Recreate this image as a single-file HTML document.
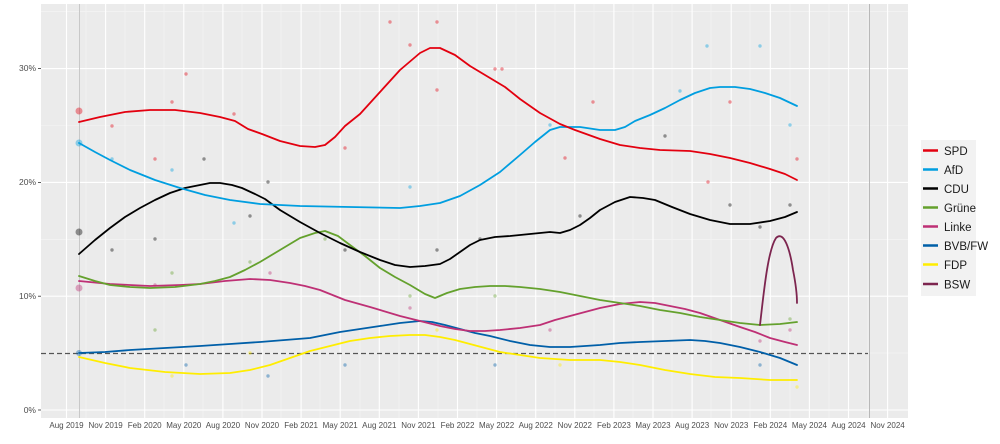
<!DOCTYPE html>
<html><head><meta charset="utf-8"><style>
body{margin:0;background:#fff;}
svg{display:block;font-family:"Liberation Sans",sans-serif;}
</style></head><body>
<svg width="1000" height="444" viewBox="0 0 1000 444">
<rect x="41" y="4" width="867" height="414" fill="#EBEBEB"/>
<g stroke="#F5F5F5" stroke-width="0.6">
<line x1="41" x2="908" y1="353.1" y2="353.1"/><line x1="41" x2="908" y1="239.3" y2="239.3"/><line x1="41" x2="908" y1="125.5" y2="125.5"/><line x1="41" x2="908" y1="11.7" y2="11.7"/>
<line x1="86" x2="86" y1="4" y2="418"/><line x1="125" x2="125" y1="4" y2="418"/><line x1="164" x2="164" y1="4" y2="418"/><line x1="203" x2="203" y1="4" y2="418"/><line x1="242" x2="242" y1="4" y2="418"/><line x1="281" x2="281" y1="4" y2="418"/><line x1="320" x2="320" y1="4" y2="418"/><line x1="360" x2="360" y1="4" y2="418"/><line x1="399" x2="399" y1="4" y2="418"/><line x1="438" x2="438" y1="4" y2="418"/><line x1="477" x2="477" y1="4" y2="418"/><line x1="516" x2="516" y1="4" y2="418"/><line x1="555" x2="555" y1="4" y2="418"/><line x1="594" x2="594" y1="4" y2="418"/><line x1="633" x2="633" y1="4" y2="418"/><line x1="672" x2="672" y1="4" y2="418"/><line x1="711" x2="711" y1="4" y2="418"/><line x1="750" x2="750" y1="4" y2="418"/><line x1="790" x2="790" y1="4" y2="418"/><line x1="829" x2="829" y1="4" y2="418"/><line x1="868" x2="868" y1="4" y2="418"/>
</g>
<g stroke="#fff" stroke-width="1.1">
<line x1="41" x2="908" y1="410" y2="410"/><line x1="41" x2="908" y1="296.2" y2="296.2"/><line x1="41" x2="908" y1="182.4" y2="182.4"/><line x1="41" x2="908" y1="68.6" y2="68.6"/>
<line x1="66.5" x2="66.5" y1="4" y2="418"/><line x1="105.6" x2="105.6" y1="4" y2="418"/><line x1="144.7" x2="144.7" y1="4" y2="418"/><line x1="183.8" x2="183.8" y1="4" y2="418"/><line x1="222.9" x2="222.9" y1="4" y2="418"/><line x1="262" x2="262" y1="4" y2="418"/><line x1="301.1" x2="301.1" y1="4" y2="418"/><line x1="340.2" x2="340.2" y1="4" y2="418"/><line x1="379.3" x2="379.3" y1="4" y2="418"/><line x1="418.4" x2="418.4" y1="4" y2="418"/><line x1="457.5" x2="457.5" y1="4" y2="418"/><line x1="496.6" x2="496.6" y1="4" y2="418"/><line x1="535.7" x2="535.7" y1="4" y2="418"/><line x1="574.8" x2="574.8" y1="4" y2="418"/><line x1="613.9" x2="613.9" y1="4" y2="418"/><line x1="653" x2="653" y1="4" y2="418"/><line x1="692.1" x2="692.1" y1="4" y2="418"/><line x1="731.2" x2="731.2" y1="4" y2="418"/><line x1="770.3" x2="770.3" y1="4" y2="418"/><line x1="809.4" x2="809.4" y1="4" y2="418"/><line x1="848.5" x2="848.5" y1="4" y2="418"/><line x1="887.6" x2="887.6" y1="4" y2="418"/>
</g>
<line x1="79.5" x2="79.5" y1="4" y2="418" stroke="#C8C8C8" stroke-width="1"/>
<line x1="869.5" x2="869.5" y1="4" y2="418" stroke="#B8B8B8" stroke-width="1"/>
<line x1="41" x2="868" y1="353.5" y2="353.5" stroke="#555" stroke-width="1.3" stroke-dasharray="5,3"/>
<g opacity="0.4">
<circle cx="112" cy="126" r="1.7" fill="#E3000F"/><circle cx="172" cy="102" r="1.7" fill="#E3000F"/><circle cx="186" cy="74" r="1.7" fill="#E3000F"/><circle cx="234" cy="114" r="1.7" fill="#E3000F"/><circle cx="155" cy="159" r="1.7" fill="#E3000F"/><circle cx="390" cy="22" r="1.7" fill="#E3000F"/><circle cx="437" cy="22" r="1.7" fill="#E3000F"/><circle cx="410" cy="45" r="1.7" fill="#E3000F"/><circle cx="495" cy="69" r="1.7" fill="#E3000F"/><circle cx="502" cy="69" r="1.7" fill="#E3000F"/><circle cx="437" cy="90" r="1.7" fill="#E3000F"/><circle cx="345" cy="148" r="1.7" fill="#E3000F"/><circle cx="593" cy="102" r="1.7" fill="#E3000F"/><circle cx="565" cy="158" r="1.7" fill="#E3000F"/><circle cx="708" cy="182" r="1.7" fill="#E3000F"/><circle cx="730" cy="102" r="1.7" fill="#E3000F"/><circle cx="797" cy="159" r="1.7" fill="#E3000F"/>
<circle cx="112" cy="159" r="1.7" fill="#009EE0"/><circle cx="172" cy="170" r="1.7" fill="#009EE0"/><circle cx="234" cy="223" r="1.7" fill="#009EE0"/><circle cx="410" cy="187" r="1.7" fill="#009EE0"/><circle cx="550" cy="125" r="1.7" fill="#009EE0"/><circle cx="707" cy="46" r="1.7" fill="#009EE0"/><circle cx="760" cy="46" r="1.7" fill="#009EE0"/><circle cx="680" cy="91" r="1.7" fill="#009EE0"/><circle cx="790" cy="125" r="1.7" fill="#009EE0"/>
<circle cx="112" cy="250" r="1.7" fill="#000"/><circle cx="155" cy="239" r="1.7" fill="#000"/><circle cx="204" cy="159" r="1.7" fill="#000"/><circle cx="250" cy="216" r="1.7" fill="#000"/><circle cx="268" cy="182" r="1.7" fill="#000"/><circle cx="345" cy="250" r="1.7" fill="#000"/><circle cx="437" cy="250" r="1.7" fill="#000"/><circle cx="480" cy="239" r="1.7" fill="#000"/><circle cx="580" cy="216" r="1.7" fill="#000"/><circle cx="665" cy="136" r="1.7" fill="#000"/><circle cx="730" cy="205" r="1.7" fill="#000"/><circle cx="790" cy="205" r="1.7" fill="#000"/><circle cx="760" cy="227" r="1.7" fill="#000"/>
<circle cx="155" cy="330" r="1.7" fill="#64A12D"/><circle cx="172" cy="273" r="1.7" fill="#64A12D"/><circle cx="250" cy="262" r="1.7" fill="#64A12D"/><circle cx="325" cy="239" r="1.7" fill="#64A12D"/><circle cx="410" cy="296" r="1.7" fill="#64A12D"/><circle cx="495" cy="296" r="1.7" fill="#64A12D"/><circle cx="790" cy="319" r="1.7" fill="#64A12D"/>
<circle cx="155" cy="285" r="1.7" fill="#BE3075"/><circle cx="270" cy="273" r="1.7" fill="#BE3075"/><circle cx="410" cy="308" r="1.7" fill="#BE3075"/><circle cx="550" cy="330" r="1.7" fill="#BE3075"/><circle cx="760" cy="341" r="1.7" fill="#BE3075"/><circle cx="790" cy="330" r="1.7" fill="#BE3075"/>
<circle cx="172" cy="376" r="1.7" fill="#FFED00"/><circle cx="250" cy="353" r="1.7" fill="#FFED00"/><circle cx="437" cy="330" r="1.7" fill="#FFED00"/><circle cx="560" cy="365" r="1.7" fill="#FFED00"/><circle cx="797" cy="387" r="1.7" fill="#FFED00"/>
<circle cx="186" cy="365" r="1.7" fill="#005FA8"/><circle cx="268" cy="376" r="1.7" fill="#005FA8"/><circle cx="345" cy="365" r="1.7" fill="#005FA8"/><circle cx="495" cy="365" r="1.7" fill="#005FA8"/><circle cx="760" cy="365" r="1.7" fill="#005FA8"/>
<circle cx="79" cy="111" r="3.5" fill="#E3000F"/><circle cx="79" cy="143" r="3.5" fill="#009EE0"/><circle cx="79" cy="232" r="3.5" fill="#000"/><circle cx="79" cy="288" r="3.5" fill="#BE3075"/><circle cx="79" cy="353" r="3" fill="#005FA8"/>
</g>
<g fill="none" stroke-width="1.8" stroke-linejoin="round" stroke-linecap="round">
<polyline stroke="#FFED00" points="79,357 105,363 130,368 165,372 200,374 230,373 250,370 270,365 290,358 310,351 330,346 350,341 370,338 390,336 410,335 425,335 440,337 455,340 470,344 485,348 500,352 520,355 540,358 570,360 600,360 620,362 640,365 665,370 690,374 715,377 740,378 770,380 797,380"/>
<polyline stroke="#005FA8" points="79,353 105,352 130,350 165,348 200,346 230,344 260,342 285,340 310,338 325,335 340,332 360,329 380,326 400,323 420,321 432,322 445,325 460,329 475,333 490,336 510,341 530,345 550,347 570,347 600,345 620,343 640,342 665,341 690,340 705,341 720,343 740,347 760,352 780,358 797,365"/>
<polyline stroke="#BE3075" points="79,281 110,284 150,286 180,285 200,284 225,281 250,279 270,280 290,283 305,286 320,290 345,300 370,307 400,316 420,321 440,326 455,329 470,331 485,331 500,330 520,328 540,325 555,320 570,316 585,312 600,308 620,304 640,302 655,303 670,306 685,309 700,313 720,320 740,327 755,332 770,338 785,342 797,345"/>
<polyline stroke="#64A12D" points="79,276 95,281 110,285 130,287 150,288 175,287 200,284 215,281 230,277 245,270 260,262 280,250 300,238 315,233 325,231 338,236 350,245 365,256 380,268 395,277 410,285 425,294 435,298 447,293 460,289 475,287 490,286 505,286 520,287 540,289 560,292 580,296 600,300 620,303 640,306 660,310 680,313 700,317 720,320 740,323 760,325 780,324 797,322"/>
<polyline stroke="#000" points="79,254 95,240 110,228 125,217 140,208 155,200 170,193 185,188 200,185 210,183 220,183 232,185 242,188 255,194 265,199 280,210 300,222 320,233 340,243 360,252 380,260 395,265 410,267 425,266 440,264 450,259 460,252 470,245 480,240 495,237 510,236 530,234 550,232 560,233 570,230 580,225 590,218 600,210 615,202 630,197 643,198 655,200 672,207 690,214 710,220 730,224 750,224 770,221 785,217 797,212"/>
<polyline stroke="#009EE0" points="79,143 95,152 110,160 130,170 155,180 180,188 205,195 230,200 260,204 300,206 350,207 400,208 420,206 440,203 460,196 480,185 500,172 520,155 535,142 550,130 560,127 580,127 600,130 615,130 625,127 635,121 650,115 665,108 680,100 695,93 710,88 720,87 735,87 750,89 765,93 780,98 797,106"/>
<polyline stroke="#E3000F" points="79,122 100,117 125,112 150,110 175,110 200,113 220,117 235,121 248,129 262,134 280,141 300,146 315,147 325,145 335,137 345,126 360,114 380,92 400,70 420,53 430,48 440,48 455,55 470,66 490,78 505,87 520,99 540,113 560,124 575,130 600,139 620,145 640,148 660,150 690,151 710,154 730,158 750,163 770,169 785,174 797,180"/>
<path stroke="#7D254F" d="M760,325 C764,290 768,250 776,238 C784,230 790,250 793,270 C796,285 797,295 797,303"/>
</g>
<g font-size="8.5" fill="#4D4D4D" text-anchor="end">
<text x="36" y="413">0%</text><text x="36" y="299">10%</text><text x="36" y="185">20%</text><text x="36" y="71">30%</text>
</g>
<g stroke="#333" stroke-width="0.8">
<line x1="38" x2="41" y1="410" y2="410"/><line x1="38" x2="41" y1="296.2" y2="296.2"/><line x1="38" x2="41" y1="182.4" y2="182.4"/><line x1="38" x2="41" y1="68.6" y2="68.6"/>
</g>
<g font-size="8" fill="#4D4D4D" text-anchor="middle">
<text x="66.5" y="428">Aug 2019</text><text x="105.6" y="428">Nov 2019</text><text x="144.7" y="428">Feb 2020</text><text x="183.8" y="428">May 2020</text><text x="222.9" y="428">Aug 2020</text><text x="262" y="428">Nov 2020</text><text x="301.1" y="428">Feb 2021</text><text x="340.2" y="428">May 2021</text><text x="379.3" y="428">Aug 2021</text><text x="418.4" y="428">Nov 2021</text><text x="457.5" y="428">Feb 2022</text><text x="496.6" y="428">May 2022</text><text x="535.7" y="428">Aug 2022</text><text x="574.8" y="428">Nov 2022</text><text x="613.9" y="428">Feb 2023</text><text x="653" y="428">May 2023</text><text x="692.1" y="428">Aug 2023</text><text x="731.2" y="428">Nov 2023</text><text x="770.3" y="428">Feb 2024</text><text x="809.4" y="428">May 2024</text><text x="848.5" y="428">Aug 2024</text><text x="887.6" y="428">Nov 2024</text>
</g>
<rect x="921" y="140" width="55" height="156" fill="#F2F2F2"/>
<g stroke-width="2.5">
<line x1="923" x2="938" y1="150.5" y2="150.5" stroke="#E3000F"/><line x1="923" x2="938" y1="169.5" y2="169.5" stroke="#009EE0"/><line x1="923" x2="938" y1="188.5" y2="188.5" stroke="#000"/><line x1="923" x2="938" y1="207.5" y2="207.5" stroke="#64A12D"/><line x1="923" x2="938" y1="226.5" y2="226.5" stroke="#BE3075"/><line x1="923" x2="938" y1="245.5" y2="245.5" stroke="#005FA8"/><line x1="923" x2="938" y1="264.5" y2="264.5" stroke="#FFED00"/><line x1="923" x2="938" y1="284" y2="284" stroke="#7D254F"/>
</g>
<g font-size="11.5" fill="#1a1a1a">
<text x="944" y="155">SPD</text><text x="944" y="174">AfD</text><text x="944" y="193">CDU</text><text x="944" y="212">Grüne</text><text x="944" y="231">Linke</text><text x="944" y="250">BVB/FW</text><text x="944" y="269">FDP</text><text x="944" y="288.5">BSW</text>
</g>
</svg>
</body></html>
